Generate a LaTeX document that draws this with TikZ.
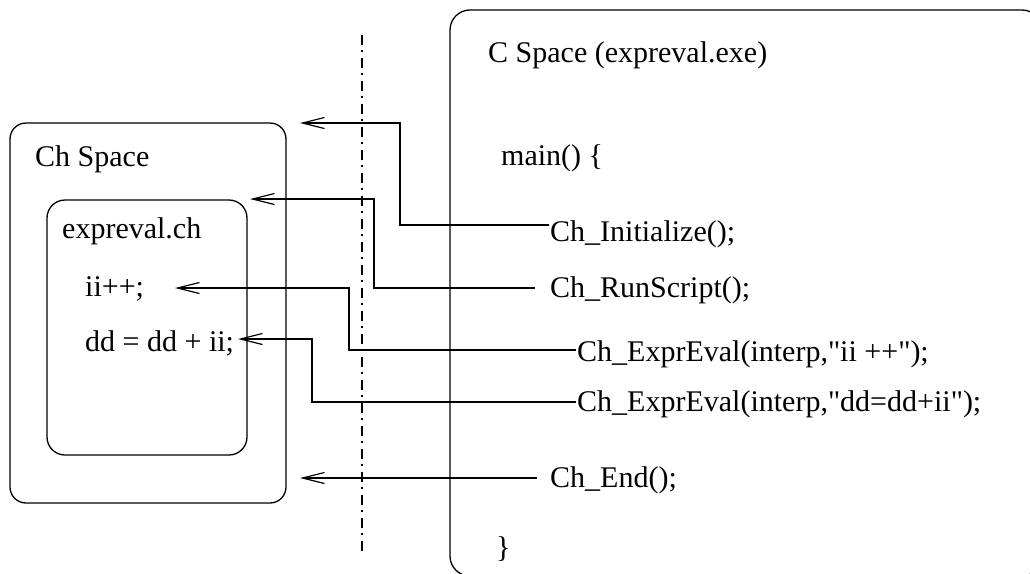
\documentclass[tikz,border=0pt]{standalone}
\usepackage{fontspec}
\setmainfont{Liberation Serif}[Ligatures=TeXOff]
\usetikzlibrary{arrows.meta}
\begin{document}
\begin{tikzpicture}[x=1pt,y=-1pt,
  code/.style={anchor=base west, inner sep=0pt, font=\fontsize{30}{34}\selectfont},
  frame/.style={draw, line width=1.3pt},
  conn/.style={draw, line width=1.2pt, -{Straight Barb[length=22pt,width=11pt,line width=1.2pt]}},
  sepline/.style={line width=1.2pt, dash pattern=on 10pt off 5pt on 2pt off 6pt}]
\useasboundingbox (0,0) rectangle (1030,573);
\clip (0,0) rectangle (1030,573);
% frames
\draw[frame, rounded corners=20pt] (450,10) rectangle (1042,576);
\draw[frame, rounded corners=16pt] (10,123) rectangle (286,503);
\draw[frame, rounded corners=18pt] (47,200) rectangle (247,455);
% separator
\draw[sepline] (362,35) -- (362,555);
% texts
\node[code] (cspace) at (488,62) {C Space (expreval.exe)};
\node[code] (chspace) at (35,166) {Ch Space};
\node[code] (exprch) at (62,238) {expreval.ch};
\node[code] (iipp) at (85,296) {ii++;};
\node[code] (ddstmt) at (85,351) {dd = dd + ii;};
\node[code] (mainf) at (501,165) {main() \{};
\node[code] (init) at (550,241) {Ch\_Initialize();};
\node[code] (runs) at (550,297) {Ch\_RunScript();};
\node[code] (eeone) at (577,361) {Ch\_ExprEval(interp,"ii ++");};
\node[code] (eetwo) at (577,411) {Ch\_ExprEval(interp,"dd=dd+ii");};
\node[code] (chend) at (550,487) {Ch\_End();};
\node[code] (brace) at (496,557) {\}};
% connector ends
\coordinate (s1) at (549,225);
\coordinate (t1) at (300,123);
\coordinate (s2) at (535,288);
\coordinate (t2) at (250,199);
\coordinate (s3) at (576,350);
\coordinate (t3) at (175,288);
\coordinate (s4) at (576,402);
\coordinate (t4) at (238,339);
\coordinate (s5) at (537,478);
\coordinate (t5) at (300,478);
% connectors
\draw[conn] (s1) -- (400,225) -- (400,123) -- (t1);
\draw[conn] (s2) -- (374,288) -- (374,199) -- (t2);
\draw[conn] (s3) -- (349,350) -- (349,288) -- (t3);
\draw[conn] (s4) -- (312,402) -- (312,339) -- (t4);
\draw[conn] (s5) -- (t5);
\end{tikzpicture}
\end{document}
